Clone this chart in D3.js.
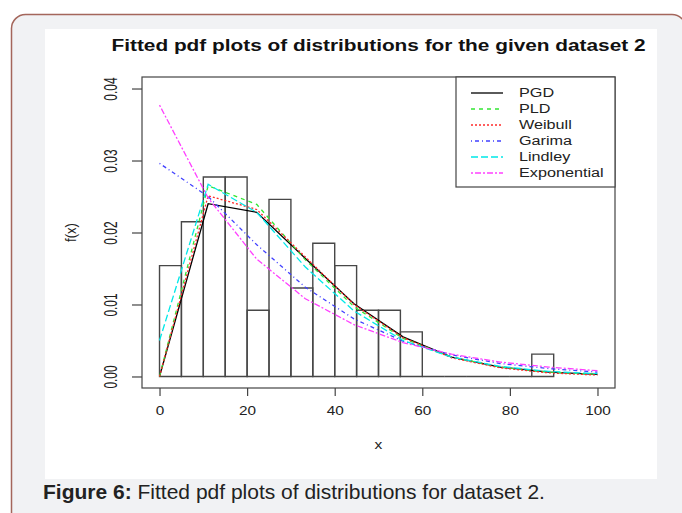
<!DOCTYPE html>
<html>
<head>
<meta charset="utf-8">
<script src="https://cdn.jsdelivr.net/npm/d3@7"></script>
<style>
  html, body { margin: 0; padding: 0; background: #fff; }
  svg { display: block; font-family: "Liberation Sans", Arial, sans-serif; }
</style>
</head>
<body>
<svg id="chart" width="682" height="513"></svg>
<script>
// histogram (density per bin of width 5)
const binEdges = [0, 5, 10, 15, 20, 25, 30, 35, 40, 45, 50, 55, 60, 65, 70, 75, 80, 85, 90];
const binDensity = [0.0154, 0.0215, 0.0277, 0.0277, 0.0092, 0.0246, 0.0123, 0.0185, 0.0154,
  0.0092, 0.0092, 0.0062, 0, 0, 0, 0, 0, 0.0031];

// fitted densities evaluated at these points
const xs = [0, 11.1, 22.2, 33.3, 44.4, 55.6, 66.7, 77.8, 88.9, 100];
const pgd = [0, 0.0240, 0.0228, 0.0164, 0.0101, 0.0055, 0.0027, 0.0013, 0.0006, 0.0003];
const pld = [0, 0.0265, 0.0239, 0.0162, 0.0097, 0.0053, 0.0027, 0.0013, 0.0006, 0.0003];
const weibull = [0, 0.0251, 0.0232, 0.0166, 0.0100, 0.0054, 0.0026, 0.0012, 0.0005, 0.0002];
const garima = [0.0296, 0.0250, 0.0183, 0.0124, 0.0080, 0.0049, 0.0030, 0.0018, 0.0011, 0.0006];
const lindley = [0.0050, 0.0267, 0.0228, 0.0152, 0.0091, 0.0050, 0.0027, 0.0014, 0.0007, 0.0004];
const exponential = [0.0377, 0.0248, 0.0163, 0.0108, 0.0072, 0.0047, 0.0031, 0.0020, 0.0013, 0.0008];

const seriesNames = ["PGD", "PLD", "Weibull", "Garima", "Lindley", "Exponential"];
const xTicks = [0, 20, 40, 60, 80, 100];
const yTicks = [0, 0.01, 0.02, 0.03, 0.04];
const yTickLabels = ["0.00", "0.01", "0.02", "0.03", "0.04"];

const series = [
  {values: pgd, color: "#000000", dash: null},
  {values: pld, color: "#33e633", dash: "4,4"},
  {values: weibull, color: "#ff2a2a", dash: "2,2"},
  {values: garima, color: "#4040ff", dash: "1,3,4,3"},
  {values: lindley, color: "#00e8e8", dash: "7,3"},
  {values: exponential, color: "#ff40ff", dash: "2,2,6,2"}
];

const svg = d3.select("#chart");

// card background
const cp = d3.path();
cp.moveTo(11.5, 530);
cp.lineTo(11.5, 28);
cp.arcTo(11.5, 14.5, 25.5, 14.5, 14);
cp.lineTo(672, 14.5);
cp.arcTo(686, 14.5, 686, 28.5, 14);
cp.lineTo(686, 530);
svg.append("path").attr("d", cp.toString()).attr("fill", "#f1f2f4")
  .attr("stroke", "#a4665b").attr("stroke-width", 1.5);

svg.append("rect").attr("x", 45).attr("y", 29).attr("width", 612).attr("height", 450).attr("fill", "#fff");

const x = d3.scaleLinear().domain([-4, 104]).range([142, 615]);
const y = d3.scaleLinear().domain([-0.0016, 0.0416]).range([388, 77]);

// histogram
const bins = binDensity.map((d, i) => ({x0: binEdges[i], x1: binEdges[i + 1], d}));
const binLine = d3.line().x(p => x(p[0])).y(p => y(p[1]));
svg.append("g").selectAll("path").data(bins).join("path")
  .attr("d", b => binLine([[b.x0, 0], [b.x0, b.d], [b.x1, b.d], [b.x1, 0]]) + "Z")
  .attr("fill", "none").attr("stroke", "#474747").attr("stroke-width", 1.4);

// fitted curves
const line = d3.line().x((d, i) => x(xs[i])).y(d => y(d));
svg.append("g").selectAll("path").data(series).join("path")
  .attr("d", s => line(s.values))
  .attr("fill", "none").attr("stroke", s => s.color).attr("stroke-width", 1.3)
  .attr("stroke-dasharray", s => s.dash);

// box
svg.append("rect").attr("x", 142).attr("y", 77).attr("width", 473).attr("height", 311)
  .attr("fill", "none").attr("stroke", "#444").attr("stroke-width", 1.2);

// x axis
const gx = svg.append("g").attr("transform", "translate(0,388)")
  .call(d3.axisBottom(x).tickValues(xTicks).tickSize(8).tickFormat(d3.format("d")));
gx.select(".domain").remove();
gx.selectAll("line").attr("stroke", "#444").attr("stroke-width", 1.2);
gx.selectAll("text").attr("y", null).attr("dy", null)
  .attr("transform", "translate(0,24) scale(1.18,1)")
  .attr("dominant-baseline", "middle")
  .attr("font-size", 13).attr("font-family", null).attr("fill", "#222");

// y axis
const gy = svg.append("g").attr("transform", "translate(142,0)")
  .call(d3.axisLeft(y).tickValues(yTicks).tickSize(10).tickFormat((d, i) => yTickLabels[i]));
gy.select(".domain").remove();
gy.selectAll("line").attr("stroke", "#444").attr("stroke-width", 1.2);
gy.selectAll("text").attr("x", null).attr("dy", null)
  .attr("transform", "translate(-30,0) scale(1.4,0.92) rotate(-90)")
  .attr("text-anchor", "middle").attr("dominant-baseline", "middle")
  .attr("font-size", 13).attr("font-family", null).attr("fill", "#222");

// titles
svg.append("text").attr("x", 378.5).attr("y", 51).attr("text-anchor", "middle")
  .attr("font-size", 16).attr("font-weight", "bold").attr("fill", "#111")
  .attr("textLength", 534).attr("lengthAdjust", "spacingAndGlyphs")
  .text("Fitted pdf plots of distributions for the given dataset 2");
svg.append("text").attr("transform", "translate(378.5,449) scale(1.2,1)").attr("text-anchor", "middle")
  .attr("font-size", 13).attr("fill", "#222").text("x");
svg.append("text").attr("transform", "translate(72,232.5) scale(1.15,1) rotate(-90)")
  .attr("text-anchor", "middle").attr("dominant-baseline", "middle")
  .attr("font-size", 13).attr("fill", "#222").text("f(x)");

// legend
const lg = svg.append("g");
lg.append("rect").attr("x", 456).attr("y", 77).attr("width", 159).attr("height", 110)
  .attr("fill", "#fff").attr("stroke", "#444").attr("stroke-width", 1.2);
const items = lg.selectAll("g.item").data(series).join("g").attr("class", "item")
  .attr("transform", (d, i) => `translate(0,${93 + i * 16})`);
items.append("line").attr("x1", 471).attr("x2", 503).attr("y1", 0).attr("y2", 0)
  .attr("stroke", d => d.color).attr("stroke-width", 1.3).attr("stroke-dasharray", d => d.dash);
items.append("text").attr("transform", "translate(519,0) scale(1.2,1)").attr("dominant-baseline", "middle")
  .attr("font-size", 13.5).attr("fill", "#222").text((d, i) => seriesNames[i]);

// caption
const cap = svg.append("text").attr("x", 43).attr("y", 499).attr("font-size", 21).attr("fill", "#222");
cap.append("tspan").attr("font-weight", "bold").text("Figure 6:");
cap.append("tspan").text(" Fitted pdf plots of distributions for dataset 2.");
</script>
</body>
</html>
